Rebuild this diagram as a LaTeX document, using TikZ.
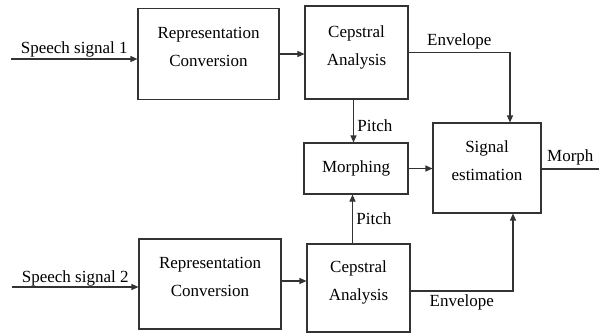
\documentclass[tikz,border=0pt]{standalone}
\usepackage{fontspec}
\setmainfont{Liberation Serif}
\usetikzlibrary{arrows.meta,positioning}

\begin{document}
\begin{tikzpicture}[
        x=1pt, y=-1pt,
        font=\fontsize{17}{28}\selectfont,
        block/.style={
            draw=black!80, line width=1.1pt, align=center,
            inner sep=0pt
        },
        twoline/.style={block, text depth=14pt},
        arrow/.style={-{Triangle[length=7pt,width=6pt]}, line width=1.1pt, draw=black!80},
        wire/.style={line width=1.1pt, draw=black!80}
        ]

        \useasboundingbox (0,0) rectangle (599,333);

        % --- Top branch ---
        \node[twoline, minimum width=141pt, minimum height=91pt] (repone) at (208.5,54)
        {Representation\\Conversion};
        \node[twoline, minimum width=103pt, minimum height=93pt] (cepone) at (356.5,52.5)
        {Cepstral\\Analysis};

        % --- Middle ---
        \node[block, minimum width=104pt, minimum height=51pt] (morphing) at (356,168.5)
        {Morphing};
        \node[twoline, minimum width=108pt, minimum height=90pt] (estimate) at (487,168)
        {Signal\\estimation};

        % --- Bottom branch ---
        \node[twoline, minimum width=142pt, minimum height=90pt] (reptwo) at (210,284)
        {Representation\\Conversion};
        \node[twoline, minimum width=103pt, minimum height=88pt] (ceptwo) at (358.5,288)
        {Cepstral\\Analysis};

        % --- Free ends ---
        \coordinate (inone) at (11,59);
        \coordinate (intwo) at (12,287);
        \coordinate (outmorph) at (599,169);

        % --- Arrows ---
        \draw[arrow] (inone) -- node[above, inner sep=1pt] {Speech signal 1} (inone -| repone.west);
        \draw[arrow] (repone.east) -- (repone.east -| cepone.west);
        \draw[arrow] (cepone.east) -- node[above] {Envelope} ([xshift=23pt]cepone.east -| estimate.north)
            -- ([xshift=23pt]estimate.north);
        \draw[arrow] ([xshift=-3pt]cepone.south) -- node[pos=0.6, right] {Pitch} ([xshift=-3pt]cepone.south |- morphing.north);
        \draw[arrow] (morphing.east) -- (morphing.east -| estimate.west);
        \draw[wire] (estimate.east |- outmorph) -- node[above] {Morph} (outmorph);

        \draw[arrow] (intwo) -- node[above, inner sep=0.5pt] {Speech signal 2} (intwo -| reptwo.west);
        \draw[arrow] ([yshift=3pt]reptwo.east) -- ([yshift=3pt]reptwo.east -| ceptwo.west);
        \draw[arrow] ([xshift=-6pt]ceptwo.north) -- node[right] {Pitch} ([xshift=-6pt]ceptwo.north |- morphing.south);
        \draw[arrow] ([yshift=-3pt]ceptwo.east) -- node[below] {Envelope} ([yshift=-3pt,xshift=26pt]ceptwo.east -| estimate.south)
            -- ([xshift=26pt]estimate.south);

    \end{tikzpicture}
\end{document}
